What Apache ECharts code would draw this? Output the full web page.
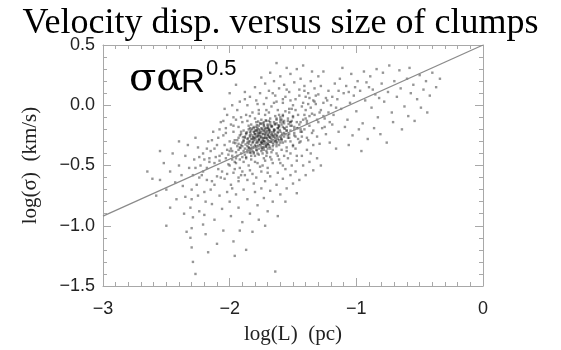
<!DOCTYPE html>
<html>
<head>
<meta charset="utf-8">
<script src="https://cdn.jsdelivr.net/npm/echarts@6/dist/echarts.min.js"></script>
<style>html,body{margin:0;padding:0;background:#fff}#c{width:561px;height:350px}</style>
</head>
<body>
<div id="c"></div>
<script>
// ---- data ----
const chartTitle = 'Velocity disp. versus size of clumps';
const xName = 'log(L)  (pc)';
const yName = 'log(σ)  (km/s)';
const xRange = [-3, 0];
const yRange = [-1.5, 0.5];
const xTickStep = 1;
const yTickStep = 0.5;
// power-law guide line sigma ~ R^0.5 (end points as drawn)
const fitLine = [[-3, -0.92], [0, 0.5]];
// clump cloud (log L, log sigma)
const clumpCore = [
[-1.75,-0.27],[-1.72,-0.25],[-1.78,-0.30],[-1.80,-0.24],[-1.70,-0.29],
[-1.68,-0.22],[-1.83,-0.33],[-1.77,-0.20],[-1.66,-0.31],[-1.73,-0.35],
[-1.86,-0.28],[-1.64,-0.24],[-1.79,-0.18],[-1.71,-0.19],[-1.88,-0.36],
[-1.62,-0.28],[-1.74,-0.32],[-1.69,-0.26],[-1.81,-0.22],[-1.76,-0.23],
[-1.84,-0.26],[-1.67,-0.17],[-1.73,-0.14],[-1.65,-0.20],[-1.90,-0.31],
[-1.82,-0.38],[-1.77,-0.41],[-1.60,-0.22],[-1.58,-0.18],[-1.63,-0.15],
[-1.70,-0.36],[-1.85,-0.20],[-1.92,-0.25],[-1.94,-0.34],[-1.87,-0.43],
[-1.79,-0.35],[-1.75,-0.38],[-1.71,-0.42],[-1.66,-0.37],[-1.61,-0.33],
[-1.57,-0.26],[-1.55,-0.21],[-1.59,-0.12],[-1.68,-0.11],[-1.76,-0.15],
[-1.83,-0.16],[-1.89,-0.21],[-1.96,-0.29],[-1.98,-0.38],[-1.91,-0.40],
[-1.74,-0.29],[-1.72,-0.31],[-1.78,-0.26],[-1.69,-0.23],[-1.81,-0.29],
[-1.76,-0.33],[-1.67,-0.28],[-1.64,-0.30],[-1.85,-0.32],[-1.80,-0.27],
[-1.73,-0.21],[-1.70,-0.16],[-1.62,-0.19],[-1.66,-0.26],[-1.78,-0.22],
[-1.82,-0.25],[-1.75,-0.19],[-1.71,-0.27],[-1.77,-0.36],[-1.84,-0.30],
[-1.60,-0.26],[-1.56,-0.30],[-1.53,-0.24],[-1.51,-0.17],[-1.54,-0.13],
[-1.58,-0.08],[-1.64,-0.09],[-1.72,-0.08],[-1.80,-0.11],[-1.86,-0.13],
[-1.93,-0.18],[-1.97,-0.22],[-2.00,-0.30],[-2.02,-0.37],[-1.95,-0.44],
[-1.89,-0.47],[-1.83,-0.45],[-1.78,-0.48],[-1.72,-0.46],[-1.68,-0.43],
[-1.63,-0.40],[-1.59,-0.37],[-1.55,-0.35],[-1.52,-0.30],[-1.49,-0.25],
[-1.47,-0.19],[-1.50,-0.10],[-1.56,-0.05],[-1.62,-0.04],[-1.69,-0.06],
[-1.74,-0.24],[-1.77,-0.28],[-1.71,-0.33],[-1.79,-0.31],[-1.68,-0.30],
[-1.73,-0.27],[-1.76,-0.21],[-1.82,-0.35],[-1.65,-0.22],[-1.70,-0.25],
[-1.81,-0.19],[-1.87,-0.24],[-1.63,-0.34],[-1.67,-0.39],[-1.74,-0.40],
[-1.86,-0.39],[-1.90,-0.34],[-1.61,-0.17],[-1.57,-0.23],[-1.54,-0.27],
[-1.75,-0.12],[-1.79,-0.14],[-1.69,-0.13],[-1.65,-0.14],[-1.60,-0.10],
[-1.84,-0.22],[-1.88,-0.27],[-1.93,-0.37],[-1.80,-0.42],[-1.73,-0.44],
[-1.74,-0.30],[-1.76,-0.26],[-1.72,-0.22],[-1.78,-0.24],[-1.70,-0.32],
[-1.80,-0.33],[-1.67,-0.25],[-1.83,-0.28],[-1.75,-0.35],[-1.69,-0.20],
[-1.77,-0.17],[-1.64,-0.27],[-1.86,-0.34],[-1.71,-0.38],[-1.62,-0.23],
[-1.81,-0.40],[-1.89,-0.29],[-1.59,-0.29],[-1.66,-0.34],[-1.84,-0.37],
[-1.68,-0.16],[-1.73,-0.17],[-1.79,-0.21],[-1.85,-0.17],[-1.91,-0.22],
[-1.63,-0.12],[-1.58,-0.14],[-1.55,-0.18],[-1.52,-0.21],[-1.60,-0.31],
[-1.765,-0.245],[-1.735,-0.275],[-1.795,-0.285],[-1.705,-0.215],[-1.685,-0.265],
[-1.815,-0.305],[-1.745,-0.195],[-1.655,-0.245],[-1.775,-0.335],[-1.725,-0.295],
[-1.835,-0.235],[-1.695,-0.185],[-1.645,-0.205],[-1.755,-0.225],[-1.805,-0.345],
[-1.715,-0.345],[-1.675,-0.305],[-1.625,-0.255],[-1.785,-0.165],[-1.855,-0.275],
[-1.745,-0.315],[-1.695,-0.245],[-1.665,-0.175],[-1.825,-0.195],[-1.765,-0.285],
[-1.605,-0.205],[-1.635,-0.285],[-1.875,-0.325],[-1.725,-0.185],[-1.785,-0.375],
[-1.815,-0.265],[-1.755,-0.305],[-1.705,-0.275],[-1.665,-0.225],[-1.735,-0.235],
[-1.785,-0.205],[-1.845,-0.355],[-1.615,-0.165],[-1.585,-0.235],[-1.895,-0.265],
[-1.705,-0.395],[-1.755,-0.155],[-1.655,-0.325],[-1.805,-0.225],[-1.725,-0.325],
[-1.865,-0.225],[-1.775,-0.255],[-1.685,-0.205],[-1.645,-0.155],[-1.915,-0.355],
[-1.565,-0.195],[-1.595,-0.275],[-1.835,-0.395],[-1.745,-0.365],[-1.685,-0.345],
[-1.625,-0.305],[-1.775,-0.135],[-1.715,-0.125],[-1.955,-0.315],[-1.535,-0.155]
];
const clumpInner = [
[-2.03,-0.44],[-1.99,-0.36],[-2.01,-0.49],[-1.97,-0.31],[-2.06,-0.40],
[-1.98,-0.42],[-2.04,-0.33],[-1.96,-0.47],[-2.08,-0.46],[-2.00,-0.38],
[-1.93,-0.27],[-1.91,-0.33],[-1.88,-0.41],[-1.92,-0.45],[-1.87,-0.23],
[-1.95,-0.39],[-1.89,-0.30],[-1.94,-0.29],[-1.86,-0.37],[-1.90,-0.43],
[-1.92,-0.35],[-1.88,-0.26],[-1.94,-0.42],[-1.86,-0.31],[-1.91,-0.24],
[-1.89,-0.38],[-1.93,-0.32],[-1.87,-0.44],
[-1.83,-0.21],[-1.81,-0.27],[-1.79,-0.34],[-1.84,-0.39],[-1.78,-0.19],
[-1.82,-0.31],[-1.80,-0.24],[-1.85,-0.35],[-1.77,-0.29],[-1.83,-0.42],
[-1.79,-0.37],[-1.81,-0.18],[-1.84,-0.25],[-1.78,-0.40],[-1.82,-0.28],
[-1.76,-0.33],[-1.80,-0.21],[-1.85,-0.30],[-1.79,-0.26],[-1.83,-0.36],
[-1.77,-0.23],[-1.81,-0.39],[-1.84,-0.19],[-1.78,-0.31],
[-1.73,-0.16],[-1.71,-0.23],[-1.69,-0.30],[-1.74,-0.35],[-1.68,-0.14],
[-1.72,-0.27],[-1.70,-0.19],[-1.75,-0.31],[-1.67,-0.24],[-1.73,-0.37],
[-1.69,-0.33],[-1.71,-0.13],[-1.74,-0.21],[-1.68,-0.36],[-1.72,-0.24],
[-1.66,-0.29],[-1.70,-0.17],[-1.75,-0.26],[-1.69,-0.21],[-1.73,-0.30],
[-1.67,-0.18],[-1.71,-0.34],[-1.74,-0.15],[-1.68,-0.27],[-1.72,-0.20],
[-1.70,-0.32],
[-1.63,-0.11],[-1.61,-0.18],[-1.59,-0.25],[-1.64,-0.30],[-1.58,-0.09],
[-1.62,-0.22],[-1.60,-0.14],[-1.65,-0.26],[-1.57,-0.19],[-1.63,-0.32],
[-1.59,-0.28],[-1.61,-0.08],[-1.64,-0.16],[-1.58,-0.31],[-1.62,-0.19],
[-1.56,-0.24],[-1.60,-0.12],[-1.65,-0.21],[-1.59,-0.16],[-1.63,-0.25],
[-1.57,-0.13],[-1.61,-0.29],
[-1.53,-0.06],[-1.51,-0.13],[-1.49,-0.20],[-1.54,-0.25],[-1.48,-0.04],
[-1.52,-0.17],[-1.50,-0.09],[-1.55,-0.21],[-1.47,-0.14],[-1.53,-0.27],
[-1.49,-0.23],[-1.51,-0.03],[-1.54,-0.11],[-1.48,-0.26],[-1.52,-0.14],
[-1.46,-0.19],
[-1.43,-0.01],[-1.41,-0.08],[-1.39,-0.15],[-1.44,-0.20],[-1.38,0.01],
[-1.42,-0.12],[-1.40,-0.04],[-1.45,-0.16],[-1.37,-0.09],[-1.43,-0.22]
];
const clumpMid = [
[-2.05,-0.25],[-2.10,-0.33],[-2.08,-0.42],[-2.15,-0.38],[-2.12,-0.48],
[-2.18,-0.52],[-2.06,-0.55],[-2.00,-0.50],[-1.97,-0.56],[-1.92,-0.52],
[-1.88,-0.58],[-1.84,-0.54],[-1.79,-0.60],[-1.75,-0.55],[-1.70,-0.52],
[-1.66,-0.48],[-1.61,-0.45],[-1.57,-0.42],[-1.52,-0.40],[-1.48,-0.36],
[-1.45,-0.31],[-1.43,-0.26],[-1.41,-0.20],[-1.44,-0.14],[-1.46,-0.08],
[-1.40,-0.11],[-1.37,-0.17],[-1.35,-0.23],[-1.38,-0.29],[-1.33,-0.08],
[-1.30,-0.14],[-1.28,-0.04],[-1.32,0.01],[-1.36,-0.02],[-1.42,0.02],
[-1.50,0.00],[-1.53,-0.03],[-1.58,0.02],[-1.63,0.03],[-1.67,-0.01],
[-1.73,0.01],[-1.77,-0.04],[-1.82,-0.06],[-1.87,-0.08],[-1.91,-0.10],
[-1.95,-0.12],[-1.99,-0.16],[-2.03,-0.19],[-2.07,-0.14],[-2.02,-0.08],
[-1.94,-0.04],[-1.86,0.00],[-1.79,0.04],[-1.71,0.06],[-1.64,0.08],
[-1.56,0.07],[-1.48,0.05],[-1.40,0.07],[-1.34,0.04],[-1.26,0.02],
[-1.22,-0.06],[-1.25,-0.11],[-1.27,-0.19],[-1.31,-0.26],[-1.34,-0.33],
[-1.39,-0.37],[-1.43,-0.42],[-1.47,-0.46],[-1.51,-0.50],[-1.56,-0.53],
[-1.62,-0.56],[-1.68,-0.59],[-1.72,-0.63],[-1.81,-0.65],[-1.86,-0.62],
[-1.93,-0.63],[-1.99,-0.66],[-2.04,-0.61],[-2.10,-0.59],[-2.14,-0.63],
[-2.20,-0.45],[-2.22,-0.58],[-2.17,-0.30],[-2.13,-0.22],[-2.09,-0.27],
[-1.98,-0.45],[-2.01,-0.41],[-1.95,-0.48],[-1.90,-0.55],[-1.76,-0.51],
[-1.60,-0.48],[-1.54,-0.44],[-1.50,-0.33],[-1.46,-0.28],[-1.44,-0.22],
[-1.52,-0.14],[-1.57,-0.15],[-1.49,-0.18],[-1.39,-0.13],[-1.35,-0.07],
[-2.12,-0.36],[-2.16,-0.47],[-2.09,-0.53],[-2.14,-0.29],[-2.21,-0.55],
[-2.07,-0.60],[-2.02,-0.57],[-1.96,-0.53],[-1.91,-0.58],[-1.85,-0.50],
[-1.80,-0.47],[-1.74,-0.50],[-1.67,-0.45],[-1.62,-0.42],[-1.55,-0.38],
[-1.50,-0.34],[-1.44,-0.30],[-1.39,-0.27],[-1.34,-0.21],[-1.31,-0.12],
[-1.29,-0.06],[-1.33,0.03],[-1.37,0.06],[-1.45,0.08],[-1.52,0.04],
[-1.58,0.05],[-1.65,0.02],[-1.71,-0.04],[-1.77,-0.07],[-1.84,-0.09],
[-1.90,-0.14],[-1.97,-0.17],[-2.03,-0.23],[-2.08,-0.20],[-2.11,-0.43],
[-1.26,-0.09],[-1.23,0.04],[-1.19,0.07],[-1.16,-0.02],[-1.14,0.12],
[-1.93,-0.60],[-1.82,-0.57],[-1.70,-0.56],[-1.58,-0.50],[-1.47,-0.42],
[-2.24,-0.43],[-2.18,-0.62],[-2.27,-0.52],[-1.88,0.05],[-1.78,0.01],
[-1.66,0.10],[-1.55,0.13],[-1.41,0.12],[-1.32,0.08],[-1.21,-0.14],
[-1.25,-0.18],[-1.29,-0.32],[-1.36,-0.40],[-1.97,-0.10],[-2.05,-0.13],
[-1.92,0.03],[-1.84,0.07],[-1.76,0.10],[-1.69,0.12],[-1.61,0.14],
[-1.53,0.11],[-1.45,0.13],[-1.38,0.10],[-1.30,0.09],[-1.24,0.06],
[-1.80,0.15],[-1.72,0.18],[-1.65,0.20],[-1.57,0.17],[-1.49,0.19],
[-1.41,0.16],[-1.33,0.14],[-1.98,0.00],[-2.04,-0.03],[-1.88,0.11],
[-1.60,0.24],[-1.52,0.26],[-1.44,0.22],[-1.68,0.27],[-1.36,0.20],
[-2.00,0.10],[-1.95,0.17],[-1.75,0.23],[-1.47,0.30],[-1.30,0.24]
];
const clumpLargeTail = [
[-1.20,0.00],[-1.18,-0.08],[-1.15,0.05],[-1.12,-0.03],[-1.10,0.10],
[-1.07,-0.12],[-1.05,0.02],[-1.02,0.08],[-1.00,-0.05],[-0.97,0.12],
[-0.95,-0.15],[-0.93,0.04],[-0.90,0.15],[-0.88,-0.02],[-0.85,0.09],
[-0.83,-0.10],[-0.80,0.18],[-0.78,0.03],[-0.75,0.11],[-0.72,-0.06],
[-0.70,0.20],[-0.68,0.07],[-0.65,0.14],[-0.62,-0.01],[-0.60,0.22],
[-0.57,0.10],[-0.55,0.17],[-0.52,0.05],[-0.50,0.25],[-0.47,0.13],
[-0.45,0.20],[-0.42,0.08],[-0.40,0.27],[-0.37,0.15],[-0.34,0.22],
[-1.22,0.12],[-1.17,0.18],[-1.13,0.22],[-1.08,0.16],[-1.04,0.26],
[-0.99,0.20],[-0.94,0.28],[-0.89,0.24],[-0.84,0.30],[-0.79,0.27],
[-0.74,0.33],[-0.66,0.29],[-0.58,0.31],[-1.26,0.28],[-1.11,0.31],
[-1.19,-0.16],[-1.14,-0.22],[-1.09,-0.18],[-1.03,-0.25],[-0.98,-0.20],
[-0.91,-0.28],[-0.86,-0.19],[-0.81,-0.24],[-0.76,-0.31],[-0.71,-0.14],
[-0.64,-0.20],[-0.59,-0.09],[-0.54,-0.13],[-0.49,-0.02],[-0.44,-0.06],
[-1.24,-0.24],[-1.21,-0.31],[-1.16,-0.36],[-1.06,-0.33],[-0.96,-0.38],
[-1.01,0.15],[-0.92,0.19],[-0.87,0.13],[-0.82,0.06],[-1.06,0.11],
[-1.28,0.16],[-1.35,0.28],[-1.42,0.33],[-1.55,0.31],[-1.63,0.35]
];
const clumpSmallTail = [
[-2.30,-0.70],[-2.30,-0.78],[-2.31,-0.85],[-2.29,-0.93],[-2.30,-1.02],
[-2.31,-1.10],[-2.30,-1.18],[-2.29,-1.30],[-2.25,-0.75],[-2.24,-0.88],
[-2.20,-0.72],[-2.19,-0.80],[-2.20,-0.91],[-2.21,-0.99],[-2.19,-1.07],
[-2.15,-0.70],[-2.14,-0.82],[-2.12,-0.95],[-2.08,-0.75],[-2.06,-0.86],
[-2.05,-1.04],[-2.02,-0.72],[-2.00,-0.80],[-1.99,-0.92],[-1.97,-1.13],
[-1.95,-0.74],[-1.93,-0.85],[-1.90,-0.97],[-1.89,-0.70],[-1.86,-0.78],
[-1.84,-0.90],[-1.82,-1.05],[-1.80,-0.72],[-1.78,-0.83],[-1.75,-0.69],
[-1.73,-0.77],[-1.70,-0.88],[-1.68,-0.71],[-1.66,-0.80],[-1.63,-0.66],
[-1.60,-0.74],[-1.58,-0.61],[-1.55,-0.69],[-1.52,-0.58],[-1.50,-0.65],
[-1.48,-0.55],[-1.45,-0.62],[-1.42,-0.50],[-1.40,-0.58],[-1.37,-0.47],
[-1.34,-0.54],[-1.31,-0.44],[-1.28,-0.50],[-1.87,-1.20],[-1.96,-1.25],
[-2.27,-1.40],[-1.64,-1.38],[-2.10,-1.15],[-2.17,-1.22],[-1.92,-1.04],
[-2.35,-0.76],[-2.36,-0.90],[-2.34,-1.05],[-2.12,-0.66],[-1.98,-0.69],
[-1.77,-0.95],[-1.72,-1.00],[-1.56,-0.80],[-1.47,-0.73],[-1.62,-0.92],
[-2.25,-0.35],[-2.28,-0.45],[-2.32,-0.52],[-2.35,-0.42],[-2.38,-0.58],
[-2.40,-0.50],[-2.43,-0.64],[-2.45,-0.40],[-2.47,-0.55],[-2.50,-0.70],
[-2.52,-0.48],[-2.55,-0.62],[-2.58,-0.75],[-2.61,-0.61],[-2.50,-1.00],
[-2.27,-0.27],[-2.33,-0.33],[-2.40,-0.30],[-2.24,-0.60],[-2.26,-0.66],
[-2.42,-0.78],[-2.47,-0.85],[-2.37,-0.67],[-2.21,-0.40],[-2.23,-0.50],
[-2.18,-0.36],[-2.16,-0.44],[-2.29,-0.58],[-2.55,-0.38],[-2.65,-0.55]
];
const clumpPoints = clumpCore.concat(clumpInner, clumpMid, clumpLargeTail, clumpSmallTail);

// ---- chart ----
const frameColor = '#a8a8a8';
const labelFont = "'Liberation Sans', Arial, sans-serif";
const serifFont = "'Liberation Serif', 'Times New Roman', serif";
const minus = v => (v < 0 ? '\u2212' : '');
const fmtX = v => (Math.abs(v) < 1e-9 ? '0' : minus(v) + Math.abs(v).toFixed(0));
const fmtY = v => (Math.abs(v) < 1e-9 ? '0.0' : minus(v) + Math.abs(v).toFixed(1));

function axisBase(extra) {
  return Object.assign({
    type: 'value',
    axisLine: { show: true, onZero: false, lineStyle: { color: frameColor, width: 1 } },
    axisTick: { show: true, inside: true, length: 8, lineStyle: { color: frameColor } },
    splitLine: { show: false },
    minorSplitLine: { show: false }
  }, extra);
}

const chart = echarts.init(document.getElementById('c'), null, { renderer: 'canvas' });
chart.setOption({
  backgroundColor: '#fff',
  animation: false,
  title: { text: chartTitle, left: 'center', top: 1,
    textStyle: { fontFamily: serifFont, fontSize: 36, fontWeight: 'normal', color: '#000' } },
  graphic: [
    { type: 'text', left: 129, top: 60, silent: true,
      style: { text: 'σα', fontFamily: 'DejaVu Serif', fontSize: 40, fontWeight: 'normal', fill: '#000' } },
    { type: 'text', left: 181, top: 66, silent: true,
      style: { text: 'R', fontFamily: 'Liberation Sans', fontSize: 33, fontWeight: 'normal', fill: '#000' } },
    { type: 'text', left: 206, top: 58, silent: true,
      style: { text: '0.5', fontFamily: 'Liberation Sans', fontSize: 22, fontWeight: 'normal', fill: '#000' } }
  ],
  grid: { left: 103, right: 78, top: 45, bottom: 62 },
  xAxis: [
    axisBase({ position: 'bottom', min: xRange[0], max: xRange[1], interval: xTickStep,
      minorTick: { show: true, splitNumber: 10, length: 4, lineStyle: { color: frameColor } },
      name: xName, nameLocation: 'middle', nameGap: 38,
      nameTextStyle: { fontFamily: serifFont, fontSize: 21, color: '#222' },
      axisLabel: { formatter: fmtX, margin: 14, fontFamily: labelFont, fontSize: 18, color: '#222' } }),
    axisBase({ position: 'top', min: xRange[0], max: xRange[1], interval: xTickStep,
      minorTick: { show: true, splitNumber: 10, length: 4, lineStyle: { color: frameColor } },
      axisLabel: { show: false } })
  ],
  yAxis: [
    axisBase({ position: 'left', min: yRange[0], max: yRange[1], interval: yTickStep,
      minorTick: { show: true, splitNumber: 5, length: 4, lineStyle: { color: frameColor } },
      name: yName, nameLocation: 'middle', nameGap: 62, nameRotate: 90,
      nameTextStyle: { fontFamily: serifFont, fontSize: 21, color: '#222' },
      axisLabel: { formatter: fmtY, margin: 8, fontFamily: labelFont, fontSize: 18, color: '#222' } }),
    axisBase({ position: 'right', min: yRange[0], max: yRange[1], interval: yTickStep,
      minorTick: { show: true, splitNumber: 5, length: 4, lineStyle: { color: frameColor } },
      axisLabel: { show: false } })
  ],
  series: [
    { type: 'scatter', xAxisIndex: 0, yAxisIndex: 0, data: clumpPoints,
      symbol: 'rect', symbolSize: 2.4,
      itemStyle: { color: 'rgba(15,15,15,0.55)' }, silent: true },
    { type: 'line', xAxisIndex: 0, yAxisIndex: 0, data: fitLine, symbol: 'none',
      lineStyle: { color: '#8a8a8a', width: 1.2 }, silent: true }
  ]
});
</script>
</body>
</html>
